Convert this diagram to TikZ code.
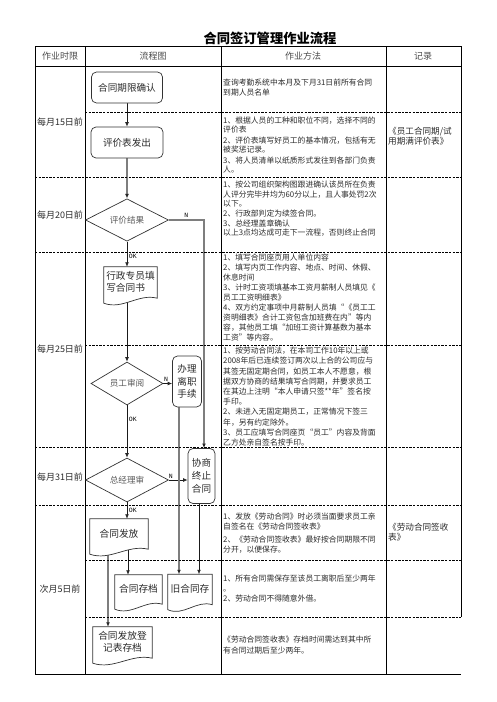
\documentclass[tikz,border=0pt]{standalone}
\usepackage{fontspec}
\setmainfont{Noto Sans CJK SC}
\setmonofont{Liberation Mono}
\usetikzlibrary{arrows.meta,calc,shapes.geometric}
\definecolor{cGrid}{HTML}{000000}
\definecolor{cText}{HTML}{2B2B2B}
\definecolor{cHead}{HTML}{4A4A4A}
\definecolor{cWire}{HTML}{1A1A1A}
\definecolor{cWireGr}{HTML}{7E7E7E}
\definecolor{cDia}{HTML}{5A5A5A}
\pgfdeclarelayer{wires}
\pgfdeclarelayer{docs}
\pgfsetlayers{wires,docs,main}
% document shape: straight top, wavy bottom
\newcommand{\docshape}[1]{%
  \begin{pgfonlayer}{docs}
  \draw[docline] (#1.north west) -- (#1.north east) -- ($(#1.south east)+(0,1)$)
    .. controls ($(#1.south west)!0.65!(#1.south east)+(0,-4)$)
           and ($(#1.south west)!0.35!(#1.south east)+(0,13)$)
    .. ($(#1.south west)+(0,6)$) -- cycle;
  \end{pgfonlayer}}
\tikzset{
  grid/.style={draw=cGrid,line width=0.8pt},
  sep/.style={draw=cGrid,line width=0.7pt,dash pattern=on 2.4pt off 1.2pt},
  heading/.style={font=\bfseries\fontsize{13.3}{15}\selectfont,text=black},
  head/.style={font=\fontsize{9}{11}\selectfont,text=cHead},
  when/.style={font=\fontsize{9}{11}\selectfont,text=cText},
  cell/.style={anchor=north west,align=left,inner sep=0pt,text=cText},
  rec/.style={cell,font=\fontsize{8.6}{10.2}\selectfont},
  rbox/.style={draw=black!80,line width=0.7pt,rounded corners=5pt,fill=white,
               align=center,inner sep=1pt,font=\fontsize{9.6}{12.7}\selectfont,text=cText},
  dbox/.style={diamond,draw=black!80,line width=0.7pt,fill=white,inner sep=0pt,
               font=\fontsize{8.6}{10}\selectfont,text=cDia},
  docnode/.style={inner sep=1pt,align=center,font=\fontsize{9.7}{11.5}\selectfont,text=cText},
  docline/.style={draw=black!80,line width=0.7pt,fill=white},
  wire/.style={draw=cWire,line width=0.7pt,-{Latex[length=4.5pt,width=3.8pt,color=black!85]}},
  wiregr/.style={wire,draw=cWireGr,line width=1.2pt},
  lbl/.style={font=\ttfamily\fontsize{6.5}{7}\selectfont,text=black,inner sep=1.5pt},
}

\begin{document}
\begin{tikzpicture}[x=1pt,y=-1pt]
\useasboundingbox (0,0) rectangle (496,702);

\node[heading] (ttl) at (270,38) {合同签订管理作业流程};

% ---------------------------------------------------------------- table
\draw[grid] (35,46) rectangle (461,66);
\draw[grid] (35,66) -- (35,674) -- (461,674);
\draw[grid] (85,46) -- (85,674);
\draw[grid] (221,46) -- (221,674);
\draw[grid] (386,46) -- (386,674);
\draw[grid] (461,66) -- (461,617);
\foreach \y in {112,345,560,617} \draw[sep] (85,\y) -- (461,\y);
\foreach \y in {177,252,447,505} \draw[sep] (35,\y) -- (461,\y);

\node[head] (h1) at (60,56) {作业时限};
\node[head] (h2) at (153,56) {流程图};
\node[head] (h3) at (303,56) {作业方法};
\node[head] (h4) at (423,56) {记录};

\node[when] (t1) at (60,122) {每月15日前};
\node[when] (t2) at (60,215) {每月20日前};
\node[when] (t3) at (60,349) {每月25日前};
\node[when] (t4) at (60,477) {每月31日前};
\node[when] (t5) at (60,589) {次月5日前};

% ---------------------------------------------------------------- methods
\node[cell,font=\fontsize{7.8}{10}\selectfont] (m1) at (223,79) {%
查询考勤系统中本月及下月31日前所有合同\\
到期人员名单};

\node[cell,font=\fontsize{7.8}{8.5}\selectfont] (m2) at (223,117) {%
1、根据人员的工种和职位不同，选择不同的\\
评价表\\[3pt]
2、评价表填写好员工的基本情况，包括有无\\
被奖惩记录。\\[3pt]
3、将人员清单以纸质形式发往到各部门负责\\
人。};

\node[cell,font=\fontsize{7.8}{9.6}\selectfont] (m3) at (223,181) {%
1、按公司组织架构图跟进确认该员所在负责\\
人评分完毕并均为60分以上，且人事处罚2次\\
以下。\\
2、行政部判定为续签合同。\\
3、总经理盖章确认\\
以上3点均达成可走下一流程，否则终止合同};

\node[cell,font=\fontsize{7.8}{10}\selectfont] (m4) at (223,254) {%
1、填写合同座页用人单位内容\\
2、填写内页工作内容、地点、时间、休假、\\
休息时间\\
3、计时工资项填基本工资月薪制人员填见《\\
员工工资明细表》\\
4、双方约定事项中月薪制人员填“《员工工\\
资明细表》合计工资包含加班费在内”等内\\
容，其他员工填“加班工资计算基数为基本\\
工资”等内容。};

\node[cell,font=\fontsize{7.8}{10.2}\selectfont] (m5) at (223,347) {%
1、按劳动合同法，在本司工作10年以上或\\
2008年后已连续签订两次以上合的公司应与\\
其签无固定期合同，如员工本人不愿意，根\\
据双方协商的结果填写合同期，并要求员工\\
在其边上注明“本人申请只签**年”签名按\\
手印。\\
2、未进入无固定期员工，正常情况下签三\\
年，另有约定除外。\\
3、员工应填写合同座页“员工”内容及背面\\
乙方处亲自签名按手印。};

\node[cell,font=\fontsize{7.8}{10}\selectfont] (m7) at (223,513) {%
1、发放《劳动合同》时必须当面要求员工亲\\
自签名在《劳动合同签收表》\\[2.5pt]
2、《劳动合同签收表》最好按合同期限不同\\
分开，以便保存。};

\node[cell,font=\fontsize{7.8}{10}\selectfont] (m8) at (223,575) {%
1、所有合同需保存至该员工离职后至少两年\\
。\\
2、劳动合同不得随意外借。};

\node[cell,font=\fontsize{7.8}{11}\selectfont] (m9) at (223,636) {%
《劳动合同签收表》存档时间需达到其中所\\
有合同过期后至少两年。};

\node[rec] (r2) at (388,127) {《员工合同期/试\\用期满评价表》};
\node[rec] (r7) at (388,523) {《劳动合同签收\\表》};

% ---------------------------------------------------------------- flow
\node[rbox,minimum width=71pt,minimum height=31pt] (qx) at (127,87.5) {合同期限确认};
\node[rbox,minimum width=72pt,minimum height=31pt] (pjb) at (127,142.5) {评价表发出};
\node[dbox,minimum width=83pt,minimum height=36pt] (pjjg) at (127,220) {评价结果};
\node[docnode,align=left,minimum width=53pt,minimum height=30pt] (xz) at (130.5,282) {行政专员填\\写合同书};
\node[dbox,minimum width=72pt,minimum height=43pt] (ygsy) at (127,383.5) {员工审阅};
\node[rbox,minimum width=29pt,minimum height=51pt] (blz) at (187,381.5) {办理\\离职\\手续};
\node[dbox,minimum width=83pt,minimum height=44pt] (zjl) at (127,480) {总经理审};
\node[rbox,minimum width=27pt,minimum height=55pt] (xs) at (201.5,476) {协商\\终止\\合同};
\node[docnode,minimum width=58pt,minimum height=29pt] (ff) at (119,533.5) {合同发放};
\node[docnode,minimum width=47pt,minimum height=28pt] (cd) at (138.5,589) {合同存档};
\node[docnode,minimum width=44pt,minimum height=29pt] (jht) at (190,589) {旧合同存};
\node[docnode,minimum width=59pt,minimum height=30pt] (dj) at (122.5,642) {合同发放登\\记表存档};

\docshape{xz}
\docshape{ff}
\docshape{cd}
\docshape{jht}
\docshape{dj}

% ---------------------------------------------------------------- arrows
\begin{pgfonlayer}{wires}
\draw[wire] (qx.south) -- (pjb.north);
\draw[wiregr] (pjb.south) -- (pjjg.north);
\draw[wiregr] (pjjg.east) -| node[lbl,above,pos=0.25] {N} ([xshift=2.5pt]xs.north);
\draw[wire] (pjjg.south) -- node[lbl,right,pos=0.6] {OK} (pjjg.south |- xz.north);
\draw[wire] (ygsy.north |- xz.south) -- (ygsy.north);
\draw[wire] (ygsy.east) -- node[lbl,above,pos=0.3] {N} (ygsy.east -| blz.west);
\draw[wire] (ygsy.south) -- node[lbl,right,pos=0.27] {OK} (zjl.north);
\draw[wire] (zjl.east) -- node[lbl,above,pos=0.1] {N} (zjl.east -| xs.west);
\draw[wiregr] ([xshift=-8pt]blz.south) -- ([xshift=-8pt]blz.south |- jht.north);
\draw[wire] ([xshift=-2.5pt]xs.south) -- ([xshift=-2.5pt]xs.south |- jht.north);
\draw[wire] (zjl.south) -- node[lbl,right,pos=0.5] {OK} (zjl.south |- ff.north);
\draw[wire] ([xshift=9pt]ff.south) -- ([xshift=9pt]ff.south |- cd.north);
\draw[wiregr] ([xshift=-11pt]ff.south) -- ([xshift=-11pt]ff.south |- dj.north);
\end{pgfonlayer}

\end{tikzpicture}
\end{document}
